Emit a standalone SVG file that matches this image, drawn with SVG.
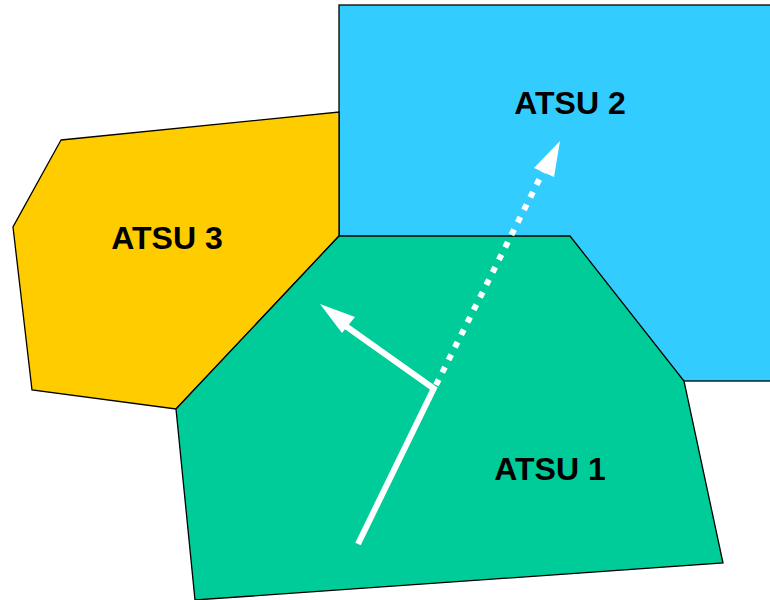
<svg xmlns="http://www.w3.org/2000/svg" width="770" height="600" viewBox="0 0 770 600">
<defs>
<style>
.region{stroke:#000;stroke-width:1.3;stroke-linejoin:miter}
.lbl{font-family:"Liberation Sans",Arial,sans-serif;font-weight:bold;font-size:32px;fill:#000;text-anchor:middle}
.ln{stroke:#fff;stroke-width:6;fill:none}
</style>
</defs>
<rect width="770" height="600" fill="#fff"/>
<g id="atsu2">
<rect class="region" x="339" y="5" width="440" height="376" fill="#33ccff"/>
<text class="lbl" x="570" y="114">ATSU 2</text>
</g>
<g id="atsu3">
<polygon class="region" points="61,140 339,112 339,236 176,409 32,390 13,227" fill="#ffcc00"/>
<text class="lbl" x="167" y="249">ATSU 3</text>
</g>
<g id="atsu1">
<polygon class="region" points="339,236 570,236 684,381 723,563 195,600 176,409" fill="#00cc99"/>
<text class="lbl" x="550" y="480">ATSU 1</text>
</g>
<g id="connectors">
<line class="ln" x1="358" y1="544" x2="435" y2="386"/>
<line class="ln" x1="433" y1="388" x2="340" y2="322"/>
<polygon points="320,304 355,317 342,333" fill="#fff"/>
<line class="ln" x1="436" y1="385" x2="547" y2="164" stroke-dasharray="6,8"/>
<polygon points="560,141 534,168 554,177" fill="#fff"/>
</g>
</svg>
